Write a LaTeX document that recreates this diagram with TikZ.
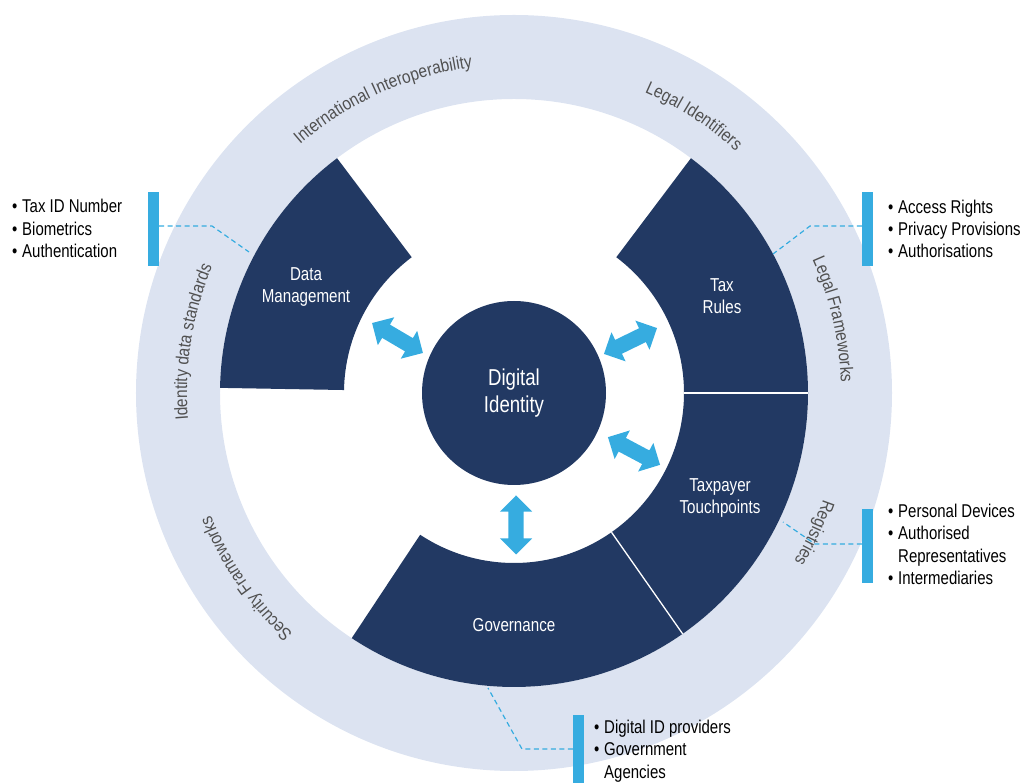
\documentclass[tikz,border=0pt]{standalone}
\usepackage{fontspec}
\setmainfont{Liberation Sans}
\newfontfamily\condfont{Liberation Sans}[FakeStretch=0.81]
\newfontfamily\ringfam{Liberation Sans}[FakeStretch=0.86]
\usetikzlibrary{shapes.arrows,decorations.text}
\definecolor{navy}{RGB}{34,57,99}
\definecolor{ringblue}{RGB}{220,227,241}
\definecolor{cyanb}{RGB}{54,172,224}
\definecolor{ringtxt}{RGB}{80,80,80}
\begin{document}
\begin{tikzpicture}[x=1pt,y=1pt,
  sector/.style={fill=navy},
  divider/.style={draw=white,line width=1.3pt},
  seclabel/.style={text=white,align=center,font=\condfont\fontsize{18.7}{22}\selectfont,inner sep=0},
  biarrow/.style={double arrow, fill=cyanb, draw=none, minimum height=59, minimum width=32, double arrow head extend=8.5, double arrow tip angle=90, inner sep=7.5pt},
  bar/.style={fill=cyanb, inner sep=0, minimum width=11, minimum height=74},
  dashline/.style={draw=cyanb, line width=1.2pt, dash pattern=on 5pt off 3.5pt},
  item/.style={anchor=base west, inner sep=0, font=\condfont\fontsize{18.5}{22.5}\selectfont, text=black},
  ringlabel/.style={decorate, decoration={text along path, text align=center, text color=ringtxt, text={|\ringfam\fontsize{18}{20}\selectfont|#1}}}
]
\useasboundingbox (-514,-390) rectangle (513,393);

% outer light ring
\fill[ringblue, even odd rule] (0,0) circle[radius=378] (0,0) circle[radius=294];

% dark sectors
\fill[sector] (127:170) arc[start angle=127,end angle=179,radius=170] -- (179:294) arc[start angle=179,end angle=127,radius=294] -- cycle;
\fill[sector] (0:170) arc[start angle=0,end angle=53,radius=170] -- (53:294) arc[start angle=53,end angle=0,radius=294] -- cycle;
\fill[sector] (-55:170) arc[start angle=-55,end angle=0,radius=170] -- (0:294) arc[start angle=0,end angle=-55,radius=294] -- cycle;
\fill[sector] (-123.5:170) arc[start angle=-123.5,end angle=-55,radius=170] -- (-55:294) arc[start angle=-55,end angle=-123.5,radius=294] -- cycle;
\draw[divider] (0:170) -- (0:294);
\draw[divider] (-55:170) -- (-55:294);

% ring labels
\path[ringlabel={International Interoperability}] (149:328) arc[start angle=149,end angle=79,radius=328];
\path[ringlabel={Legal Identifiers}] (92:328) arc[start angle=92,end angle=22,radius=328];
\path[ringlabel={Legal Frameworks}] (48:327) arc[start angle=48,end angle=-22,radius=327];
\path[ringlabel={Registries}] (10:327) arc[start angle=10,end angle=-60,radius=327];
\path[ringlabel={Security Frameworks}] (249.7:327) arc[start angle=249.7,end angle=179.7,radius=327];
\path[ringlabel={Identity data standards}] (206:327) arc[start angle=206,end angle=136,radius=327];

% centre
\node[circle, fill=navy, minimum size=184, inner sep=0, text=white, align=center,
      font=\condfont\fontsize{23}{27}\selectfont] (di) at (0,0) {Digital\\Identity};

% sector labels
\node[seclabel] (dm) at (-208,105.5) {Data\\Management};
\node[seclabel] (tr) at (208,97) {Tax\\Rules};
\node[seclabel] (tt) at (206,-105.5) {Taxpayer\\Touchpoints};
\node[seclabel] (gov) at (0,-231.7) {Governance};

% double arrows
\node[biarrow, rotate=-30.5] (a1) at (-116.5,55) {};
\node[biarrow, rotate=26] (a2) at (116.5,52) {};
\node[biarrow, rotate=-28] (a3) at (120,-58) {};
\node[biarrow, rotate=90] (a4) at (2,-132) {};

% callout bars
\node[bar] (bar1) at (-360.5,164) {};
\node[bar] (bar2) at (353.5,164) {};
\node[bar] (bar3) at (353.5,-153) {};
\node[bar, minimum height=68] (bar4) at (64.5,-356) {};

% dashed leaders
\coordinate (k1) at (-302,167); \coordinate (e1) at (-265,141);
\coordinate (k2) at (296,167);  \coordinate (e2) at (259,139);
\coordinate (k3) at (301,-151); \coordinate (e3) at (269,-129);
\coordinate (k4) at (8,-356);   \coordinate (e4) at (-26,-295);
\draw[dashline] (bar1.east |- k1) -- (k1) -- (e1);
\draw[dashline] (bar2.west |- k2) -- (k2) -- (e2);
\draw[dashline] (bar3.west |- k3) -- (k3) -- (e3);
\draw[dashline] (bar4.west |- k4) -- (k4) -- (e4);

% bullet lists
\node[item] (l1) at (-502,180) {\makebox[10pt][l]{•}Tax ID Number};
\node[item] (l2) at (-502,157) {\makebox[10pt][l]{•}Biometrics};
\node[item] (l3) at (-502,135) {\makebox[10pt][l]{•}Authentication};

\node[item] (r1) at (374,179) {\makebox[10pt][l]{•}Access Rights};
\node[item] (r2) at (374,157) {\makebox[10pt][l]{•}Privacy Provisions};
\node[item] (r3) at (374,135) {\makebox[10pt][l]{•}Authorisations};

\node[item] (s1) at (374,-125) {\makebox[10pt][l]{•}Personal Devices};
\node[item] (s2) at (374,-147) {\makebox[10pt][l]{•}Authorised};
\node[item] (s3) at (384,-170) {Representatives};
\node[item] (s4) at (374,-192) {\makebox[10pt][l]{•}Intermediaries};

\node[item] (b1) at (80,-340) {\makebox[10pt][l]{•}Digital ID providers};
\node[item] (b2) at (80,-362.5) {\makebox[10pt][l]{•}Government};
\node[item] (b3) at (90,-385) {Agencies};
\end{tikzpicture}
\end{document}
